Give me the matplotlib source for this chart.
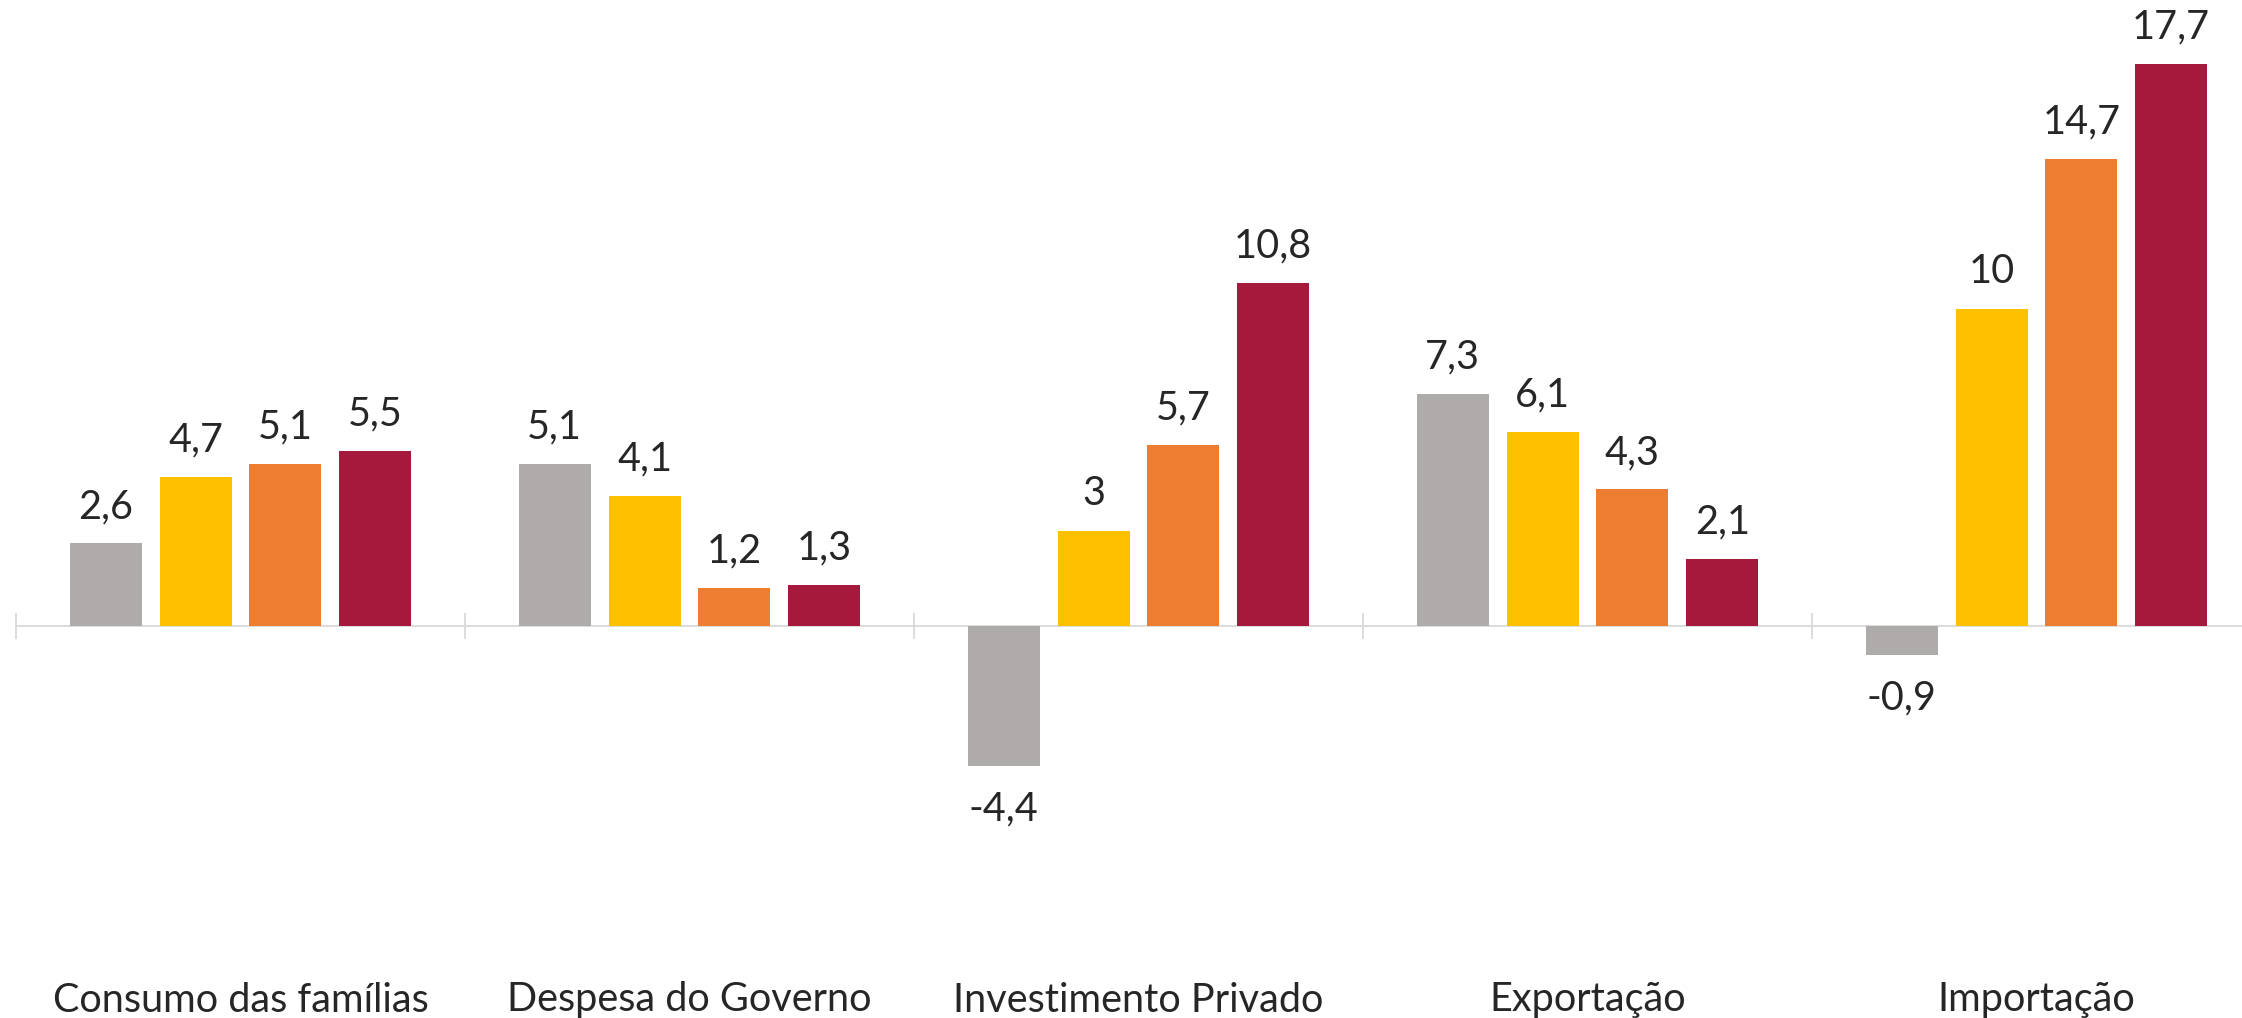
import matplotlib
matplotlib.use("Agg")
import matplotlib.pyplot as plt
import numpy as np

categories = ["Consumo das famílias", "Despesa do Governo", "Investimento Privado", "Exportação", "Importação"]
series_a = [2.6, 5.1, -4.4, 7.3, -0.9]
series_b = [4.7, 4.1, 3.0, 6.1, 10.0]
series_c = [5.1, 1.2, 5.7, 4.3, 14.7]
series_d = [5.5, 1.3, 10.8, 2.1, 17.7]
colors = ["#AFABAB", "#FFC000", "#ED7D31", "#A5193C"]

plt.rcParams['font.family'] = ['Lato', 'DejaVu Sans']

W, H = 2242, 1018
fig = plt.figure(figsize=(W / 100, H / 100), dpi=100)
# axes spans 5 categories of 449 px starting at x=16
ax = fig.add_axes([16 / W, 0, 449 * 5 / W, 1])
ax.set_facecolor("none")

ppu = 31.75  # pixels per unit
zero_px = 626
ytop = zero_px / ppu
ybot = -(H - zero_px) / ppu
ax.set_ylim(ybot, ytop)
ax.set_xlim(0, 5)

x = np.arange(len(categories)) + 0.5
width = 0.16
step = 0.2
all_series = [series_a, series_b, series_c, series_d]
for i, (vals, col) in enumerate(zip(all_series, colors)):
    pos = x + (i - 1.5) * step
    ax.bar(pos, vals, width=width, color=col, zorder=2)
    for px_, v in zip(pos, vals):
        txt = str(int(v)) if float(v).is_integer() else f"{v}".replace(".", ",")
        off = 26.6 if v >= 0 else -31.5
        ax.annotate(txt, (px_, v), xytext=(0, off), textcoords="offset points",
                    ha="center", va="center", fontsize=28.5, color="#262626")

for xi, c in zip(x, categories):
    ax.text(xi, ytop - 1000 / ppu, c, ha="center", va="center", fontsize=28.5, color="#262626")

for s in ["top", "right", "left"]:
    ax.spines[s].set_visible(False)
ax.spines["bottom"].set_position(("data", 0))
ax.spines["bottom"].set_color("#D9D9D9")
ax.spines["bottom"].set_linewidth(1.3)
ax.spines["bottom"].set_zorder(1)
ax.set_xticks(np.arange(0, 6))
ax.set_xticklabels([])
ax.tick_params(axis="x", direction="inout", length=19, width=1.3, color="#D9D9D9")
ax.set_yticks([])

fig.savefig("out.png", dpi=100)
